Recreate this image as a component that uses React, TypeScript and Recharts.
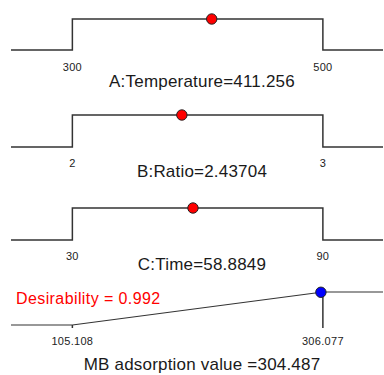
import React from 'react';
import { ComposedChart, Line, Scatter, XAxis, YAxis, ReferenceLine, Label } from 'recharts';

// factor settings and the response
const factorNames = ['A:Temperature', 'B:Ratio', 'C:Time'];
const lowLimits = [300, 2, 30];
const highLimits = [500, 3, 90];
const currentValues = [411.256, 2.43704, 58.8849];

const responseName = 'MB adsorption value ';
const responseLow = 105.108;
const responseHigh = 306.077;
const responseValue = 304.487;
const desirability = 0.992;

const FONT = '"Liberation Sans", Arial, Helvetica, sans-serif';
const LINE = '#333333';
const PAD_L = 0.245;
const PAD_R = 0.24;

interface PanelProps {
  top: number; // y of the high level on the page
  plotH: number;
  tickGap: number;
  titleGap: number;
  low: number;
  high: number;
  value: number;
  title: string;
  ramp?: boolean;
  dotY?: number;
  dotFill: string;
}

const Panel: React.FC<PanelProps> = ({ top, plotH, tickGap, titleGap, low, high, value, title, ramp, dotY = 1, dotFill }) => {
  const span = high - low;
  const d0 = low - PAD_L * span;
  const d1 = high + PAD_R * span;
  const steps = ramp
    ? [{ x: d0, y: 0 }, { x: low, y: 0 }, { x: high, y: 1 }, { x: d1, y: 1 }]
    : [{ x: d0, y: 0 }, { x: low, y: 0 }, { x: low, y: 1 }, { x: high, y: 1 }, { x: high, y: 0 }, { x: d1, y: 0 }];
  const marginTop = 8;
  const axisH = titleGap + 6 + 5;
  const tickSize = ramp ? 3 : 6;
  const fmt = (v: number) => String(v);

  return (
    <div style={{ position: 'absolute', left: 0, top: top - marginTop }}>
      <ComposedChart
        width={384}
        height={marginTop + plotH + axisH}
        margin={{ top: marginTop, right: 1, bottom: 0, left: 11 }}
      >
        <XAxis
          type="number"
          dataKey="x"
          domain={[d0, d1]}
          ticks={[low, high]}
          tickFormatter={fmt}
          axisLine={false}
          tickLine={ramp ? { stroke: LINE, strokeWidth: 1.5 } : false}
          tickSize={tickSize}
          tickMargin={tickGap - tickSize - 4}
          height={axisH}
          tick={{ fontSize: 11, fill: '#222', fontFamily: FONT, letterSpacing: 0.3 }}
          interval={0}
        >
          <Label
            value={title}
            position="insideBottom"
            offset={5}
            dx={5}
            style={{ fontSize: 17, fill: '#1a1a1a', fontFamily: FONT, letterSpacing: 0.2 }}
          />
        </XAxis>
        <YAxis hide type="number" domain={[0, 1]} />
        {ramp && (
          <ReferenceLine
            segment={[{ x: high, y: dotY }, { x: high, y: 0 }]}
            stroke={LINE}
            strokeWidth={1.5}
          />
        )}
        <Line
          data={steps}
          dataKey="y"
          type="linear"
          stroke={LINE}
          strokeWidth={ramp ? 1.2 : 1.5}
          dot={false}
          activeDot={false}
          isAnimationActive={false}
        />
        <Scatter
          data={[{ x: value, y: dotY }]}
          dataKey="y"
          isAnimationActive={false}
          shape={(p: any) => <circle cx={p.cx} cy={p.cy} r={5.2} fill={dotFill} stroke="#222" strokeWidth={1} />}
        />
      </ComposedChart>
    </div>
  );
};

const panelTops = [19, 115, 208];

export default function App() {
  return (
    <div style={{ position: 'absolute', left: 0, top: 0, width: 384, height: 375, background: '#fff', fontFamily: FONT }}>
      {factorNames.map((name, i) => (
        <Panel
          key={name}
          top={panelTops[i]}
          plotH={i === 0 ? 31 : 32}
          tickGap={i === 0 ? 17 : 16}
          titleGap={i === 0 ? 31 : 24}
          low={lowLimits[i]}
          high={highLimits[i]}
          value={currentValues[i]}
          title={`${name}=${currentValues[i]}`}
          dotFill="#ff0000"
        />
      ))}
      <Panel
        top={292}
        plotH={33}
        tickGap={16}
        titleGap={39}
        low={responseLow}
        high={responseHigh}
        value={responseValue}
        title={`${responseName}=${responseValue}`}
        ramp
        dotY={desirability}
        dotFill="#0000ff"
      />
      <div style={{ position: 'absolute', left: 16, top: 290, fontSize: 16, lineHeight: '18px', letterSpacing: 0.4, color: '#ff0000' }}>
        Desirability = {desirability}
      </div>
    </div>
  );
}
